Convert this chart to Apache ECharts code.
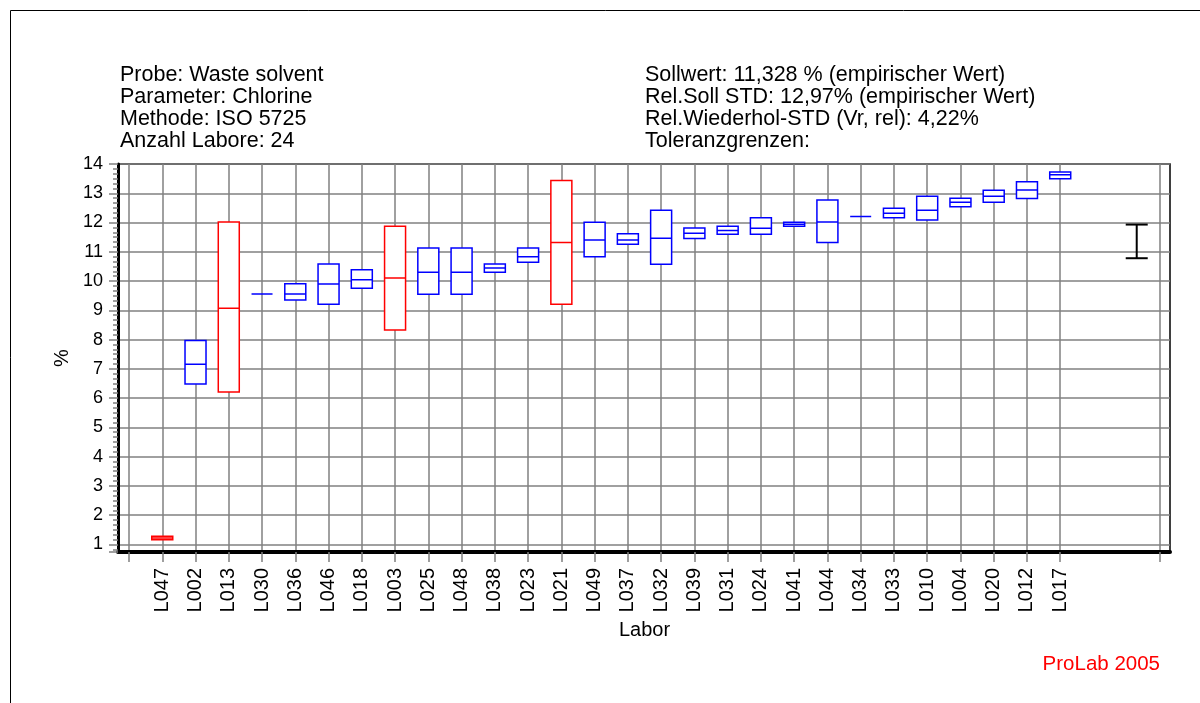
<!DOCTYPE html>
<html>
<head>
<meta charset="utf-8">
<script src="https://cdn.jsdelivr.net/npm/echarts@6/dist/echarts.min.js"></script>
<style>
  html, body { margin: 0; padding: 0; background: #fff; }
  #chart { width: 1200px; height: 703px; }
</style>
</head>
<body>
<div id="chart"></div>
<script>
// Laboratories in plotting order
const labs = ['L047','L002','L013','L030','L036','L046','L018','L003','L025','L048','L038','L023','L021','L049',
              'L037','L032','L039','L031','L024','L041','L044','L034','L033','L010','L004','L020','L012','L017'];
// Lower edge, centre line and upper edge of each lab's box (%)
const lows    = [1.16, 6.48, 6.21, 9.56, 9.35, 9.21, 9.75, 8.33, 9.55, 9.55, 10.30, 10.64, 9.21, 10.83,
                 11.26, 10.57, 11.45, 11.60, 11.60, 11.87, 11.32, 12.21, 12.16, 12.09, 12.54, 12.69, 12.82, 13.50];
const medians = [1.22, 7.16, 9.07, 9.56, 9.56, 9.90, 10.04, 10.10, 10.30, 10.30, 10.45, 10.83, 11.32, 11.40,
                 11.40, 11.46, 11.63, 11.73, 11.80, 11.94, 12.02, 12.21, 12.32, 12.42, 12.69, 12.90, 13.11, 13.63];
const highs   = [1.28, 7.97, 12.02, 9.56, 9.91, 10.58, 10.39, 11.87, 11.13, 11.13, 10.58, 11.13, 13.44, 12.01,
                 11.62, 12.42, 11.81, 11.87, 12.16, 12.01, 12.77, 12.21, 12.49, 12.90, 12.83, 13.10, 13.39, 13.73];
// Labs flagged outside tolerance (drawn in red)
const flagged = ['L047', 'L013', 'L003', 'L021'];

// Tolerance interval shown at the right of the plot
const tolPosition = 30.3;
const tolLow = 10.78;
const tolHigh = 11.93;

// Header information
const headerLeft = ['Probe: Waste solvent', 'Parameter: Chlorine', 'Methode: ISO 5725', 'Anzahl Labore: 24'];
const headerRight = ['Sollwert: 11,328 % (empirischer Wert)', 'Rel.Soll STD: 12,97% (empirischer Wert)',
                     'Rel.Wiederhol-STD (Vr, rel): 4,22%', 'Toleranzgrenzen:'];
const footer = 'ProLab 2005';

const yMin = 0.74, yMax = 14;

// Category slots: one empty slot before the labs, three after (tolerance column)
const categories = [''].concat(labs, ['', '', '']);
const lastSlot = categories.length - 1;
const tickedSlot = (idx) => idx <= labs.length || idx === lastSlot;

const FONT = '"Liberation Sans", Arial, sans-serif';
const GRID_GRAY = '#808080';

const boxData = labs.map((lab, i) => {
  const red = flagged.indexOf(lab) >= 0;
  return {
    name: lab,
    value: [i + 1, lows[i], lows[i], medians[i], highs[i], highs[i]],
    itemStyle: { borderColor: red ? '#ff0000' : '#0000ff' }
  };
});

const chart = echarts.init(document.getElementById('chart'), null, { renderer: 'canvas' });

const headerStyle = { fontSize: 21.5, lineHeight: 22, fontWeight: 'normal', color: '#000', fontFamily: FONT };

chart.setOption({
  animation: false,
  backgroundColor: '#fff',
  textStyle: { fontFamily: FONT },
  title: [
    { left: 120, top: 64, padding: 0, text: headerLeft.join('\n'), textStyle: headerStyle },
    { left: 645, top: 64, padding: 0, text: headerRight.join('\n'), textStyle: headerStyle },
    { right: 40, top: 654, padding: 0, text: footer,
      textStyle: { fontSize: 20.5, lineHeight: 20, fontWeight: 'normal', color: '#ff0000', fontFamily: FONT } }
  ],
  graphic: [
    // Page border
    { type: 'rect', silent: true, z: -10,
      shape: { x: 10.5, y: 10.5, width: 1300, height: 800 },
      style: { fill: 'none', stroke: '#000', lineWidth: 1 } }
  ],
  grid: [
    // Frame, y axis and horizontal grid lines
    { left: 118, right: 30, top: 164, bottom: 151, show: true, borderColor: '#000', borderWidth: 1.5,
      backgroundColor: 'transparent' },
    // Lab slots
    { left: 129, right: 40, top: 164, bottom: 151 }
  ],
  xAxis: [
    { type: 'value', gridIndex: 0, min: 0, max: 1,
      axisLine: { show: true, lineStyle: { color: '#000', width: 4 } },
      axisTick: { show: false }, axisLabel: { show: false }, splitLine: { show: false } },
    { type: 'category', gridIndex: 1, data: categories, boundaryGap: false, position: 'bottom',
      axisLine: { show: false },
      axisTick: { show: true, interval: tickedSlot, length: 10, lineStyle: { color: GRID_GRAY, width: 1.5 } },
      splitLine: { show: true, interval: tickedSlot, lineStyle: { color: GRID_GRAY, width: 1.5 } },
      axisLabel: { interval: 0, rotate: 90, margin: 16, fontSize: 20, color: '#000', fontFamily: FONT },
      name: 'Labor', nameLocation: 'middle', nameGap: 66,
      nameTextStyle: { fontSize: 20, color: '#000', fontFamily: FONT } },
    { type: 'value', gridIndex: 1, min: 0, max: lastSlot, show: false }
  ],
  yAxis: [
    { type: 'value', gridIndex: 0, min: yMin, max: yMax, splitNumber: 13, minInterval: 1, maxInterval: 1,
      axisLine: { show: true, lineStyle: { color: '#000', width: 3 } },
      axisTick: { show: true, length: 9, lineStyle: { color: GRID_GRAY, width: 1.5 } },
      minorTick: { show: true, splitNumber: 6, length: 5, lineStyle: { color: GRID_GRAY, width: 1.5 } },
      axisLabel: { fontSize: 18, color: '#000', margin: 15, showMinLabel: false, fontFamily: FONT },
      splitLine: { show: true, lineStyle: { color: GRID_GRAY, width: 1.5 } },
      name: '%', nameLocation: 'middle', nameRotate: 90, nameGap: 44,
      nameTextStyle: { fontSize: 20, color: '#000', fontFamily: FONT } },
    { type: 'value', gridIndex: 1, min: yMin, max: yMax, show: false }
  ],
  series: [
    {
      type: 'boxplot',
      xAxisIndex: 1, yAxisIndex: 1,
      encode: { x: 0, y: [1, 2, 3, 4, 5] },
      boxWidth: [21, 21],
      itemStyle: { color: '#fff', borderColor: '#0000ff', borderWidth: 1.5 },
      emphasis: { disabled: true },
      data: boxData
    },
    {
      type: 'custom',
      xAxisIndex: 2, yAxisIndex: 1,
      silent: true,
      data: [[tolPosition, tolLow, tolHigh]],
      renderItem: function (params, api) {
        const top = api.coord([api.value(0), api.value(2)]);
        const bot = api.coord([api.value(0), api.value(1)]);
        const half = 11;
        const style = { stroke: '#000', lineWidth: 2 };
        return {
          type: 'group',
          children: [
            { type: 'line', shape: { x1: top[0], y1: top[1], x2: bot[0], y2: bot[1] }, style: style },
            { type: 'line', shape: { x1: top[0] - half, y1: top[1], x2: top[0] + half, y2: top[1] }, style: style },
            { type: 'line', shape: { x1: bot[0] - half, y1: bot[1], x2: bot[0] + half, y2: bot[1] }, style: style }
          ]
        };
      }
    }
  ]
});
</script>
</body>
</html>
